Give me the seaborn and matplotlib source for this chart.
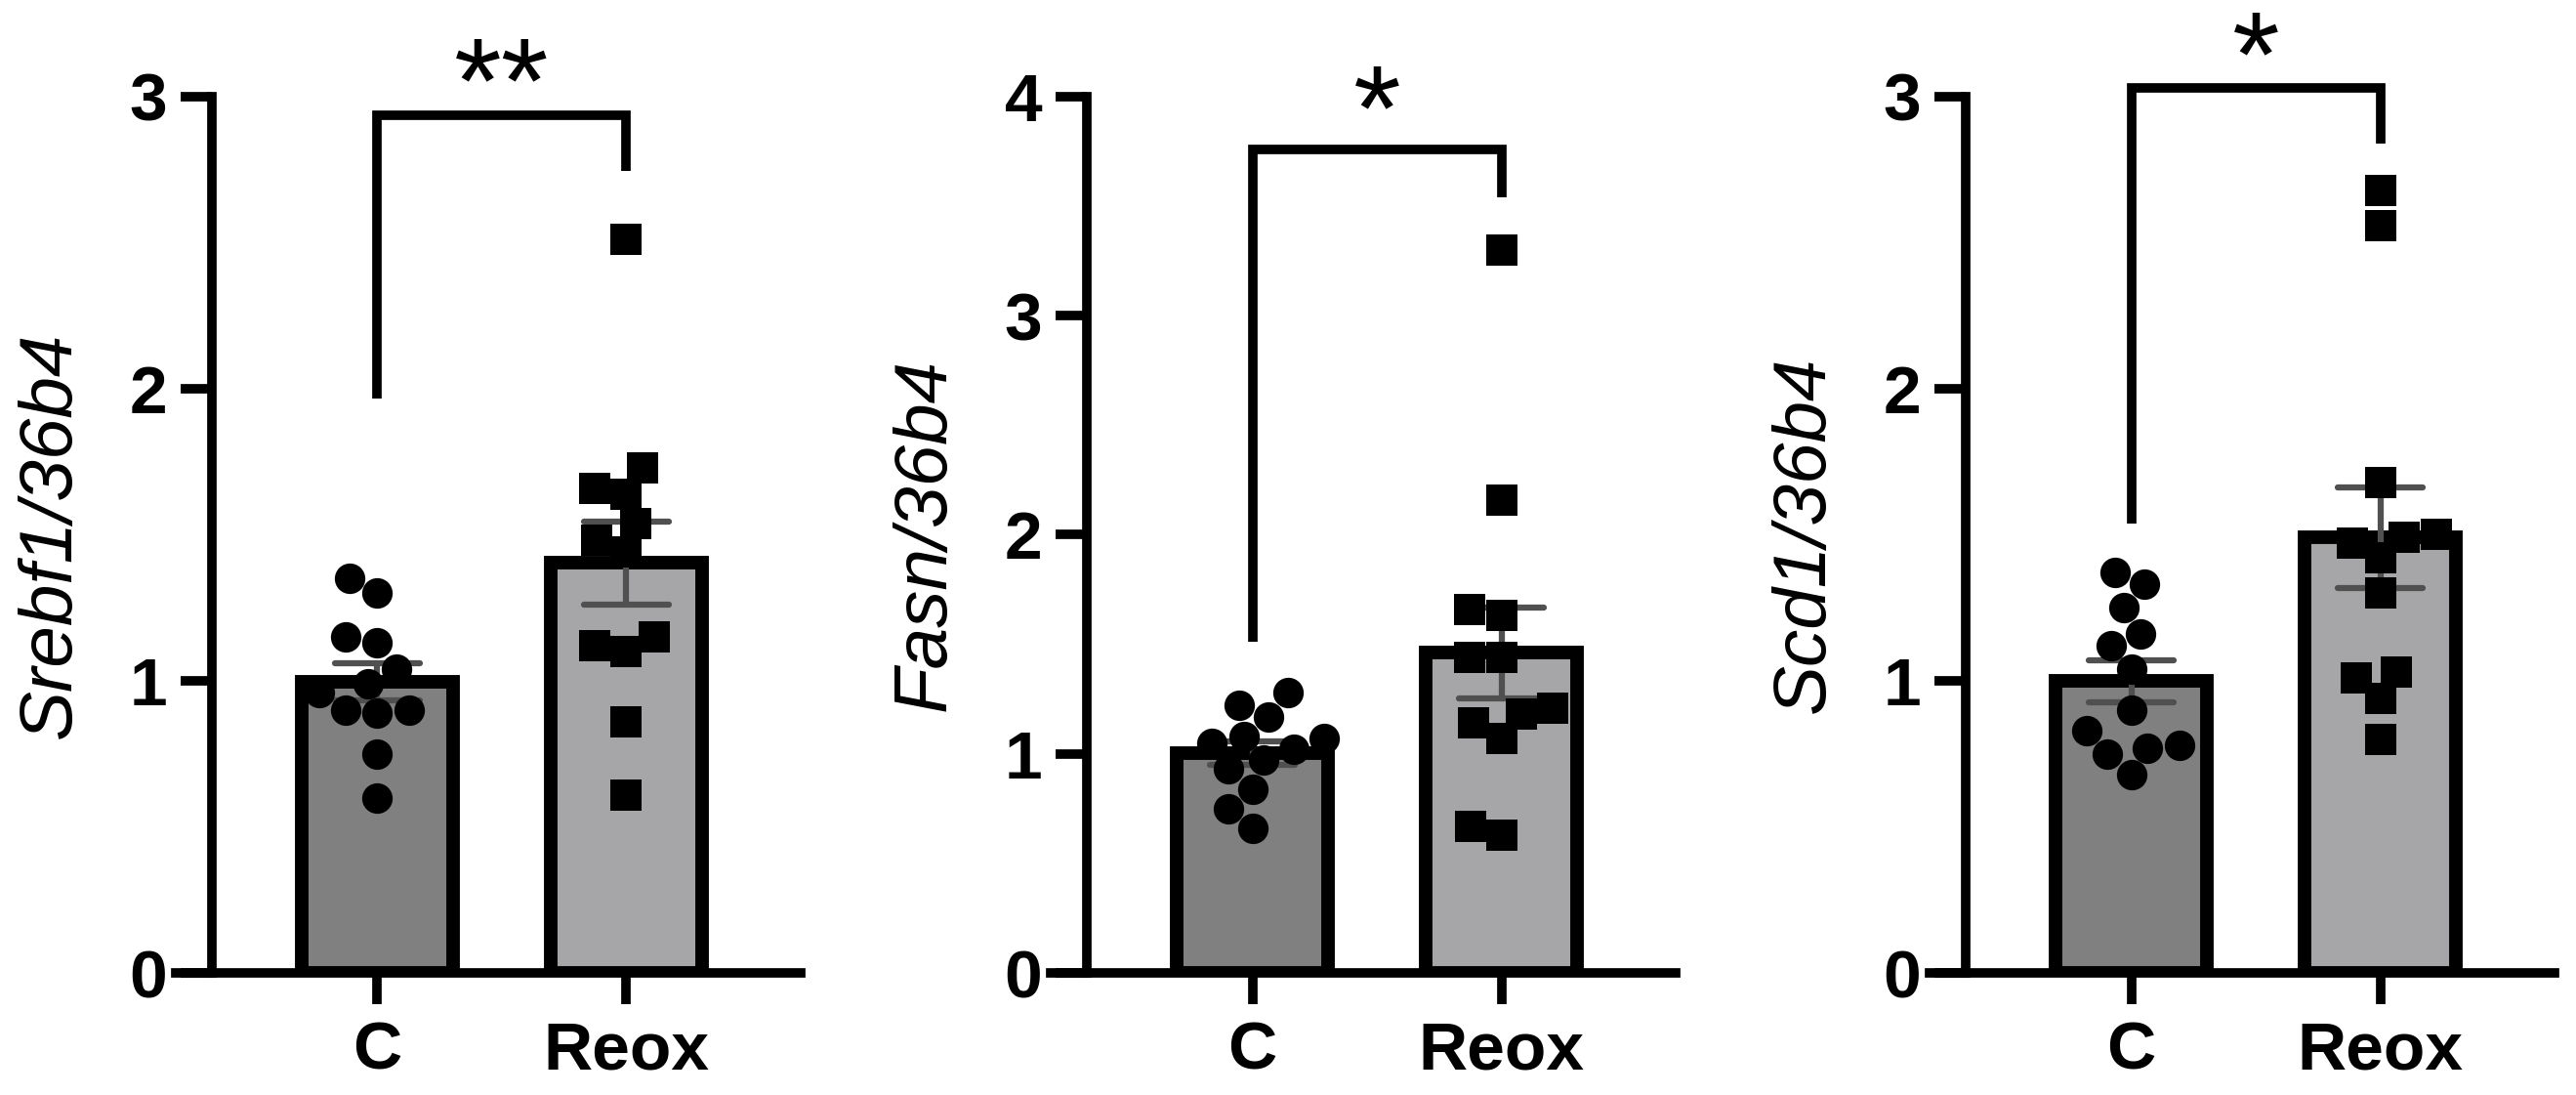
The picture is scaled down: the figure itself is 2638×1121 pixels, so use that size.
import numpy as np
import pandas as pd
import seaborn as sns
import matplotlib.pyplot as plt

groups = ["C", "Reox"]

srebf1_c = [1.30, 1.35, 1.13, 1.15, 1.04, 0.99, 0.96, 0.90, 0.89, 0.90, 0.75, 0.60]
srebf1_reox = [2.51, 1.73, 1.64, 1.66, 1.54, 1.48, 1.44, 1.12, 1.15, 1.10, 0.86, 0.61]

fasn_c = [1.22, 1.28, 1.17, 1.07, 1.08, 1.02, 1.05, 0.97, 0.93, 0.84, 0.75, 0.66]
fasn_reox = [3.30, 2.16, 1.63, 1.66, 1.44, 1.44, 1.21, 1.18, 1.07, 1.14, 0.63, 0.67]

scd1_c = [1.37, 1.33, 1.25, 1.16, 1.12, 1.04, 0.90, 0.83, 0.78, 0.77, 0.75, 0.68]
scd1_reox = [2.68, 2.56, 1.68, 1.47, 1.50, 1.49, 1.42, 1.30, 1.01, 1.03, 0.94, 0.80]

ylabels = ["Srebf1/36b4", "Fasn/36b4", "Scd1/36b4"]
ymaxes = [3, 4, 3]
stars = ["**", "*", "*"]

sns.set_theme(style="ticks")
plt.rcParams['font.family'] = ['Liberation Sans', 'DejaVu Sans']
plt.rcParams['font.weight'] = 'bold'
plt.rcParams['text.color'] = 'black'
plt.rcParams['axes.labelcolor'] = 'black'

bar_colors = ["#808080", "#a5a5aa"]

# bracket: (line y, left leg bottom, right leg bottom, star y)
brackets = [(2.935, 1.965, 2.745, 3.02),
            (3.76, 1.51, 3.54, 3.90),
            (3.03, 1.54, 2.84, 3.11)]

panels = [(srebf1_c, srebf1_reox), (fasn_c, fasn_reox), (scd1_c, scd1_reox)]
lefts = [0.0682, 0.4079, 0.7491]

fig = plt.figure(figsize=(26.38, 11.21), dpi=100)

for i, (c_vals, r_vals) in enumerate(panels):
    ax = fig.add_axes([lefts[i], 0.1115, 0.2426, 0.8002])
    df = pd.DataFrame({
        "group": ["C"] * len(c_vals) + ["Reox"] * len(r_vals),
        "value": c_vals + r_vals,
    })
    sns.barplot(data=df, x="group", y="value", order=groups, hue="group",
                hue_order=groups, palette=bar_colors, legend=False,
                errorbar="se", capsize=0.34,
                err_kws={"color": "#505050", "linewidth": 4.5},
                edgecolor="black", linewidth=10, width=0.61, ax=ax)
    sns.swarmplot(data=df[df.group == "C"], x="group", y="value", order=groups,
                  color="black", marker="o", size=22.5, linewidth=0,
                  zorder=3, ax=ax)
    sns.swarmplot(data=df[df.group == "Reox"], x="group", y="value", order=groups,
                  color="black", marker="s", size=22.5, linewidth=0,
                  zorder=3, ax=ax)

    ax.set_xlim(-0.81, 1.70)
    ax.set_ylim(0, ymaxes[i])
    ax.set_yticks(range(ymaxes[i] + 1))
    ax.spines[["top", "right"]].set_visible(False)
    ax.spines["left"].set_position(("data", -0.665))
    for s in ["left", "bottom"]:
        ax.spines[s].set_linewidth(7)
        ax.spines[s].set_color("black")
    ax.tick_params(axis="both", length=23, width=7, labelsize=50,
                   colors="black")
    ax.tick_params(axis="y", pad=10)
    ax.tick_params(axis="x", pad=12)
    ax.set_xlabel("")
    ax.set_ylabel(ylabels[i], fontsize=55, fontstyle="italic",
                  fontweight="normal", labelpad=32, color="black")

    y_line, lb, rb, sy = brackets[i]
    ax.plot([0, 0, 1, 1], [lb, y_line, y_line, rb], color="black", lw=7,
            clip_on=False, solid_joinstyle="miter", solid_capstyle="butt")
    ax.text(0.5, sy, stars[i], ha="center", va="center", fontsize=90,
            fontweight="normal", color="black", clip_on=False)

fig.savefig("out.png", dpi=100)
